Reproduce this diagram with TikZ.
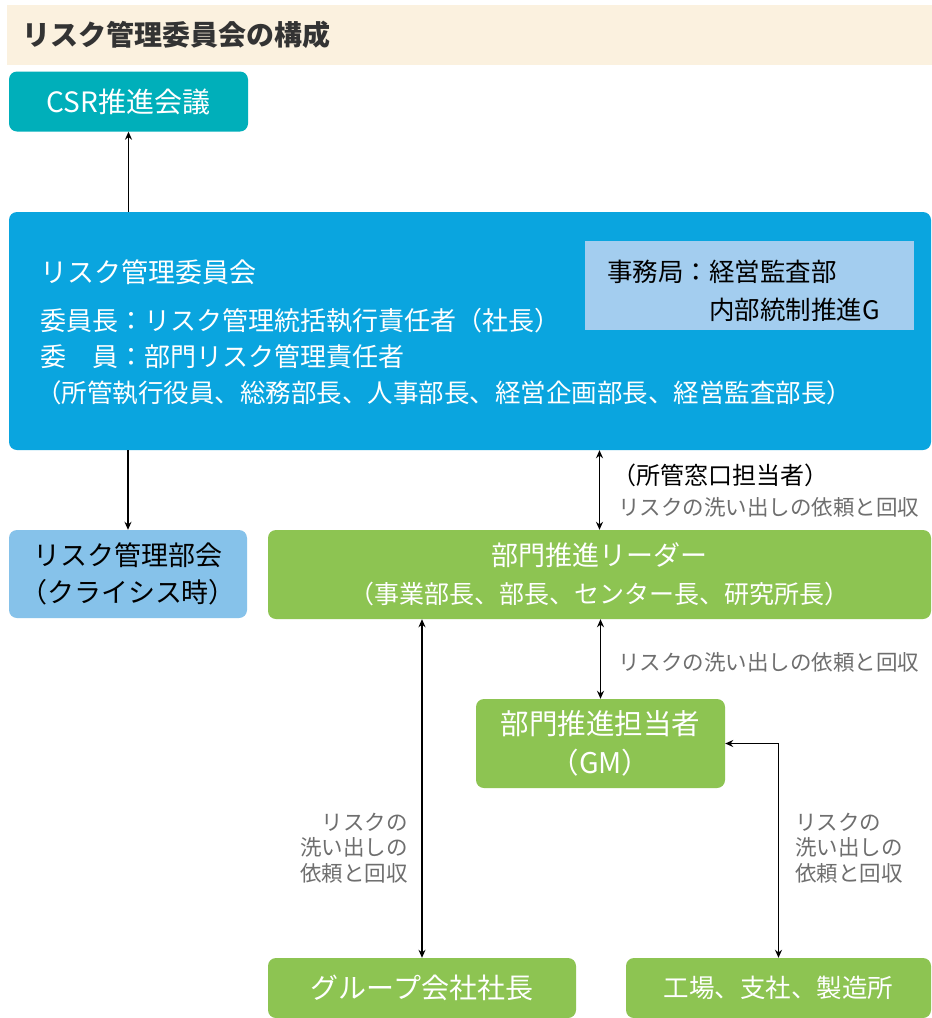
\documentclass[tikz,border=0pt]{standalone}
\usepackage{fontspec}
\setmainfont{Noto Sans CJK JP}
\usetikzlibrary{arrows.meta}
\definecolor{cream}{HTML}{FBF1DF}
\definecolor{csrteal}{HTML}{00AFBA}
\definecolor{mainblue}{HTML}{0AA5DF}
\definecolor{paleblue}{HTML}{A3CDEF}
\definecolor{bukaiblue}{HTML}{86C2EA}
\definecolor{leafgreen}{HTML}{8DC452}
\definecolor{labelgray}{HTML}{6E6E6E}
\definecolor{titletext}{HTML}{333333}
\begin{document}
\begin{tikzpicture}[x=1pt,y=-1pt,
  box/.style={rounded corners=8pt, inner sep=0pt, text=white, align=center},
  txt/.style={inner sep=0pt, anchor=west},
  arr/.style={line width=1.5pt, -{Stealth[length=8pt,width=7pt]}},
  dbl/.style={line width=1.5pt, {Stealth[length=8pt,width=7pt]}-{Stealth[length=8pt,width=7pt]}},
  lbl/.style={inner sep=0pt, text=labelgray, font=\fontsize{21.5}{25.5}\selectfont},
]
\useasboundingbox (0,0) rectangle (932,1018);
\fill[white] (0,0) rectangle (932,1018);

% title band
\node[fill=cream, minimum width=925pt, minimum height=60pt, inner sep=0pt] (band) at (469.5,35) {};
\node[txt, text=titletext, font=\bfseries\fontsize{28}{30}\selectfont] (title) at (22,35) {リスク管理委員会の構成};

% CSR
\node[box, fill=csrteal, minimum width=239pt, minimum height=60pt, font=\fontsize{28}{30}\selectfont] (csr) at (128.5,101.5) {CSR推進会議};

% main committee box
\node[box, fill=mainblue, minimum width=922pt, minimum height=238pt] (iinkai) at (470,331) {};
\node[txt, text=white, font=\fontsize{27}{30}\selectfont] (iname) at (40,272) {リスク管理委員会};
\node[txt, text=white, font=\fontsize{26}{30}\selectfont] (ichair) at (40,321) {委員長：リスク管理統括執行責任者（社長）};
\node[txt, text=white, font=\fontsize{26}{30}\selectfont] (imember) at (40,357) {委　員：部門リスク管理責任者};
\node[txt, text=white, font=\fontsize{25.5}{30}\selectfont] (ilist) at (36,393) {（所管執行役員、総務部長、人事部長、経営企画部長、経営監査部長）};

% secretariat
\node[fill=paleblue, minimum width=329pt, minimum height=89pt, inner sep=0pt] (jimu) at (749.5,285.5) {};
\node[txt, text=black, font=\fontsize{25.5}{30}\selectfont] (jimu1) at (607,272) {事務局：経営監査部};
\node[txt, text=black, font=\fontsize{25.5}{30}\selectfont] (jimu2) at (607,310) {\phantom{事務局：}内部統制推進G};

% risk subcommittee
\node[box, fill=bukaiblue, text=black, minimum width=238pt, minimum height=88pt, font=\fontsize{27}{37}\selectfont] (bukai) at (128,574) {リスク管理部会\\（クライシス時）};

% leader
\node[box, fill=leafgreen, minimum width=663pt, minimum height=89pt, font=\fontsize{27}{38}\selectfont] (leader) at (599.5,574.5) {部門推進リーダー\\{\fontsize{25}{38}\selectfont（事業部長、部長、センター長、研究所長）}};

% GM
\node[box, fill=leafgreen, minimum width=249pt, minimum height=89pt, font=\fontsize{28.5}{39}\selectfont] (gm) at (600.5,743.5) {部門推進担当者\\（GM）};

% bottom boxes
\node[box, fill=leafgreen, minimum width=308pt, minimum height=60pt, font=\fontsize{28}{30}\selectfont] (group) at (422,988) {グループ会社社長};
\node[box, fill=leafgreen, minimum width=305pt, minimum height=60pt, font=\fontsize{25.5}{30}\selectfont] (factory) at (778.5,988) {工場、支社、製造所};

% connectors
\draw[arr] (iinkai.north -| csr.south) -- (csr.south);
\draw[arr] (iinkai.south -| bukai.north) -- (bukai.north);
\draw[dbl] (iinkai.south -| leader.north) -- (leader.north);
\draw[dbl] (leader.south -| gm.north) -- (gm.north);
\draw[dbl] (leader.south -| group.north) -- (group.north);
\draw[dbl] (gm.east) -| (factory.north);

% labels
\node[txt, text=black, font=\fontsize{24}{28}\selectfont] (madoguchi) at (612,475) {（所管窓口担当者）};
\node[txt, lbl] (l1) at (618,507) {リスクの洗い出しの依頼と回収};
\node[txt, lbl] (l2) at (618,662) {リスクの洗い出しの依頼と回収};
\node[lbl, anchor=east, align=right] (l3) at (408,848) {リスクの\\洗い出しの\\依頼と回収};
\node[lbl, anchor=west, align=left] (l4) at (795,848) {リスクの\\洗い出しの\\依頼と回収};
\end{tikzpicture}
\end{document}
